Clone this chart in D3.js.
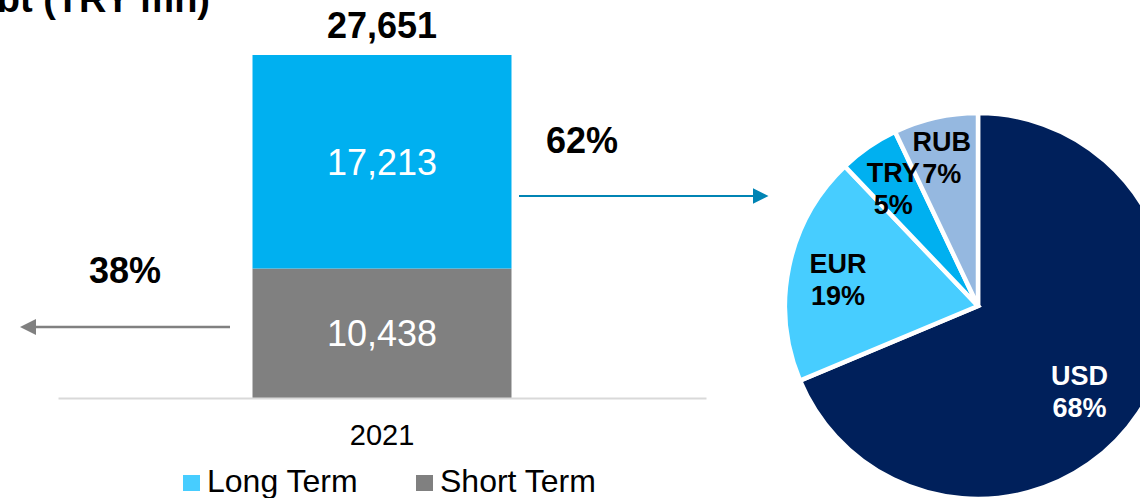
<!DOCTYPE html>
<html>
<head>
<meta charset="utf-8">
<script src="https://cdn.jsdelivr.net/npm/d3@7"></script>
<style>
  html, body { margin: 0; padding: 0; background: #fff; }
  svg { display: block; font-family: Arial, "Liberation Sans", sans-serif; }
</style>
</head>
<body>
<svg id="chart" width="1140" height="498"></svg>
<script>
// Debt by maturity (TRY mn)
const years = ["2021"];
const seriesNames = ["Short Term", "Long Term"];
const shortTerm = [10438];
const longTerm = [17213];
const totals = [27651];
const maturityShares = ["38%", "62%"];

// Currency breakdown of the long-term part (%)
const currencies = ["USD", "EUR", "TRY", "RUB"];
const currencyShares = [68, 19, 5, 7];

const barColors = { "Long Term": "#00B0F0", "Short Term": "#808080" };
const legendColors = { "Long Term": "#47CDFF", "Short Term": "#808080" };
const pieColors = { USD: "#00205B", EUR: "#47CDFF", TRY: "#00B0F0", RUB: "#95B8E0" };

const svg = d3.select("#chart");

// Title (runs off the top-left edge)
svg.append("text")
  .attr("x", 210).attr("y", 12)
  .attr("text-anchor", "end")
  .attr("font-size", 38).attr("font-weight", "bold")
  .attr("fill", "#000")
  .text("Total Debt (TRY mn)");

// ---- Stacked bar ----
const x = d3.scaleBand().domain(years).range([58, 706]).paddingInner(0).paddingOuter(0.751);
const y = d3.scaleLinear().domain([0, d3.max(totals)]).range([398, 55]);

const rows = years.map((yr, i) => ({ year: yr, "Short Term": shortTerm[i], "Long Term": longTerm[i] }));
const stacked = d3.stack().keys(seriesNames)(rows);

svg.append("g").selectAll("g")
  .data(stacked).join("g")
  .attr("fill", d => barColors[d.key])
  .selectAll("rect")
  .data(d => d.map(v => ({ key: d.key, v })))
  .join("rect")
  .attr("x", d => x(d.v.data.year))
  .attr("width", x.bandwidth())
  .attr("y", d => y(d.v[1]))
  .attr("height", d => y(d.v[0]) - y(d.v[1]));

// Segment values
svg.append("g").selectAll("text")
  .data(stacked.flatMap(s => s.map(v => ({ key: s.key, v }))))
  .join("text")
  .attr("x", d => x(d.v.data.year) + x.bandwidth() / 2)
  .attr("y", d => (y(d.v[0]) + y(d.v[1])) / 2 + 13)
  .attr("text-anchor", "middle")
  .attr("font-size", 36)
  .attr("fill", "#fff")
  .text(d => d3.format(",")(d.v.data[d.key]));

// Total on top
svg.append("g").selectAll("text")
  .data(years).join("text")
  .attr("x", d => x(d) + x.bandwidth() / 2)
  .attr("y", (d, i) => y(totals[i]) - 17)
  .attr("text-anchor", "middle")
  .attr("font-size", 36).attr("font-weight", "bold")
  .attr("fill", "#000")
  .text((d, i) => d3.format(",")(totals[i]));

// Category axis
const xAxis = svg.append("g")
  .attr("transform", `translate(0,${y(0)})`)
  .call(d3.axisBottom(x).tickSize(0).tickPadding(26));
xAxis.select(".domain").attr("stroke", "#D9D9D9").attr("stroke-width", 2);
xAxis.selectAll("text")
  .attr("font-size", 29).attr("fill", "#000")
  .attr("font-family", "Arial, 'Liberation Sans', sans-serif");

// Legend
const legendItems = ["Long Term", "Short Term"];
const legendX = [183, 416];
const legend = svg.append("g").selectAll("g")
  .data(legendItems).join("g")
  .attr("transform", (d, i) => `translate(${legendX[i]},475)`);
legend.append("rect").attr("width", 17).attr("height", 16)
  .attr("fill", d => legendColors[d]);
legend.append("text").attr("x", 24).attr("y", 17)
  .attr("font-size", 32).attr("fill", "#000")
  .text(d => d);

// ---- Share arrows ----
const defs = svg.append("defs");
function marker(id, color, size) {
  defs.append("marker")
    .attr("id", id).attr("viewBox", "0 0 10 10")
    .attr("refX", 0).attr("refY", 5)
    .attr("markerWidth", size).attr("markerHeight", size)
    .attr("markerUnits", "strokeWidth")
    .attr("orient", "auto")
    .append("path").attr("d", "M0,0 L10,5 L0,10 Z").attr("fill", color);
}
marker("arrowBlue", "#0084B4", 7.75);
marker("arrowGrey", "#808080", 6.4);

svg.append("line")
  .attr("x1", 519).attr("x2", 753).attr("y1", 196).attr("y2", 196)
  .attr("stroke", "#0084B4").attr("stroke-width", 2)
  .attr("marker-end", "url(#arrowBlue)");
svg.append("text")
  .attr("x", 582).attr("y", 153).attr("text-anchor", "middle")
  .attr("font-size", 36).attr("font-weight", "bold").attr("fill", "#000")
  .text(maturityShares[1]);

svg.append("line")
  .attr("x1", 230).attr("x2", 36).attr("y1", 327).attr("y2", 327)
  .attr("stroke", "#808080").attr("stroke-width", 2.5)
  .attr("marker-end", "url(#arrowGrey)");
svg.append("text")
  .attr("x", 125).attr("y", 283).attr("text-anchor", "middle")
  .attr("font-size", 36).attr("font-weight", "bold").attr("fill", "#000")
  .text(maturityShares[0]);

// ---- Currency pie ----
const cx = 978, cy = 306, radius = 193;
const pieData = currencies.map((c, i) => ({ name: c, value: currencyShares[i] }));
const pie = d3.pie().value(d => d.value).sort(null);
const arc = d3.arc().innerRadius(0).outerRadius(radius);
const labelArc = d3.arc().innerRadius(146).outerRadius(146);

const pieG = svg.append("g").attr("transform", `translate(${cx},${cy})`);
const arcs = pie(pieData);
pieG.selectAll("path")
  .data(arcs).join("path")
  .attr("d", arc)
  .attr("fill", d => pieColors[d.data.name])
  .attr("stroke", "#fff").attr("stroke-width", 4.5)
  .attr("stroke-linejoin", "miter");

// fine placement of the slice labels
const labelNudge = { USD: [-20, 4], EUR: [3, 3], TRY: [-2, 2], RUB: [-4, -7] };
const labels = pieG.selectAll("g.lbl")
  .data(arcs).join("g").attr("class", "lbl")
  .attr("transform", d => {
    const [lx, ly] = labelArc.centroid(d);
    const n = labelNudge[d.data.name];
    return `translate(${lx + n[0]},${ly + n[1]})`;
  });
labels.append("text")
  .attr("text-anchor", "middle")
  .attr("font-size", 27).attr("font-weight", "bold")
  .attr("fill", d => d.data.name === "USD" ? "#fff" : "#000")
  .selectAll("tspan")
  .data(d => [d.data.name, d.data.value + "%"])
  .join("tspan")
  .attr("x", 0)
  .attr("y", (t, i) => i === 0 ? -6 : 26)
  .text(t => t);
</script>
</body>
</html>
